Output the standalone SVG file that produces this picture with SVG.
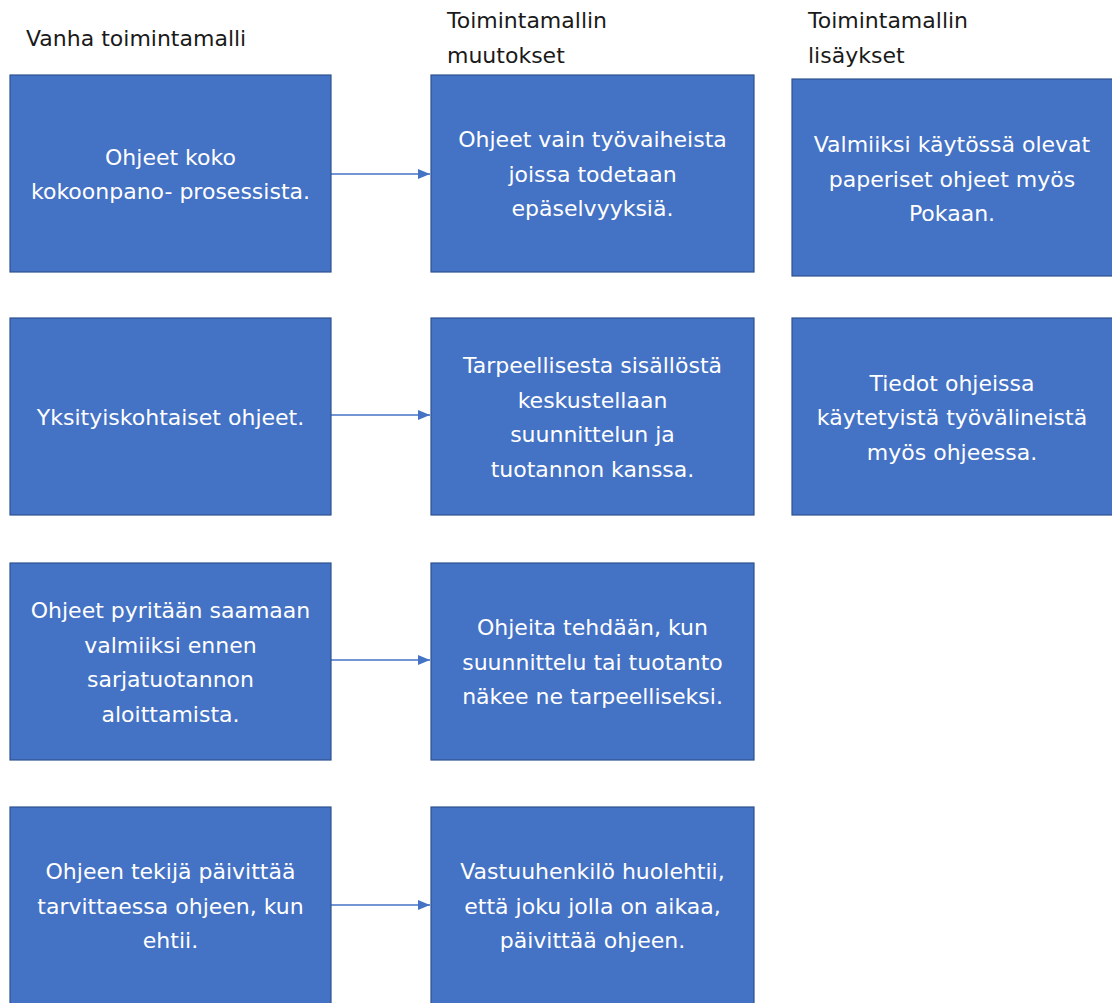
<svg xmlns="http://www.w3.org/2000/svg" width="1112" height="1003" viewBox="0 0 1112 1003">
<defs>
<style>
.box{fill:#4472C4;stroke:#2F528F;stroke-width:1.2}
.t{font-family:"DejaVu Sans",sans-serif;font-size:22px;fill:#FFFFFF;text-anchor:middle}
.h{font-family:"DejaVu Sans",sans-serif;font-size:22px;fill:#1a1a1a}
.conn{stroke:#4472C4;stroke-width:1.5;fill:none}
</style>
<marker id="arr" markerWidth="12" markerHeight="10" refX="12" refY="5" orient="auto" markerUnits="userSpaceOnUse">
<path d="M0,0 L12,5 L0,10 Z" fill="#4472C4"/>
</marker>
</defs>
<rect width="1112" height="1003" fill="#FFFFFF"/>
<g id="headers">
<text class="h" x="26" y="46">Vanha toimintamalli</text>
<text class="h" x="447" y="28">Toimintamallin</text>
<text class="h" x="447" y="63">muutokset</text>
<text class="h" x="808" y="28">Toimintamallin</text>
<text class="h" x="808" y="63">lisäykset</text>
</g>
<g id="connectors">
<line class="conn" x1="331" y1="174" x2="430" y2="174" marker-end="url(#arr)"/>
<line class="conn" x1="331" y1="415" x2="430" y2="415" marker-end="url(#arr)"/>
<line class="conn" x1="331" y1="660" x2="430" y2="660" marker-end="url(#arr)"/>
<line class="conn" x1="331" y1="905" x2="430" y2="905" marker-end="url(#arr)"/>
</g>
<g id="n1a">
<rect class="box" x="10" y="75" width="321" height="197"/>
<text class="t" x="170.5" y="164.5">Ohjeet koko</text>
<text class="t" x="170.5" y="199">kokoonpano- prosessista.</text>
</g>
<g id="n2a">
<rect class="box" x="10" y="318" width="321" height="197"/>
<text class="t" x="170.5" y="424.5">Yksityiskohtaiset ohjeet.</text>
</g>
<g id="n3a">
<rect class="box" x="10" y="563" width="321" height="197"/>
<text class="t" x="170.5" y="618">Ohjeet pyritään saamaan</text>
<text class="t" x="170.5" y="652.5">valmiiksi ennen</text>
<text class="t" x="170.5" y="687">sarjatuotannon</text>
<text class="t" x="170.5" y="721.5">aloittamista.</text>
</g>
<g id="n4a">
<rect class="box" x="10" y="807" width="321" height="197"/>
<text class="t" x="170.5" y="879">Ohjeen tekijä päivittää</text>
<text class="t" x="170.5" y="913.5">tarvittaessa ohjeen, kun</text>
<text class="t" x="170.5" y="948">ehtii.</text>
</g>
<g id="n1b">
<rect class="box" x="431" y="75" width="323" height="197"/>
<text class="t" x="592.5" y="147">Ohjeet vain työvaiheista</text>
<text class="t" x="592.5" y="181.5">joissa todetaan</text>
<text class="t" x="592.5" y="216">epäselvyyksiä.</text>
</g>
<g id="n2b">
<rect class="box" x="431" y="318" width="323" height="197"/>
<text class="t" x="592.5" y="373">Tarpeellisesta sisällöstä</text>
<text class="t" x="592.5" y="407.5">keskustellaan</text>
<text class="t" x="592.5" y="442">suunnittelun ja</text>
<text class="t" x="592.5" y="476.5">tuotannon kanssa.</text>
</g>
<g id="n3b">
<rect class="box" x="431" y="563" width="323" height="197"/>
<text class="t" x="592.5" y="635">Ohjeita tehdään, kun</text>
<text class="t" x="592.5" y="669.5">suunnittelu tai tuotanto</text>
<text class="t" x="592.5" y="704">näkee ne tarpeelliseksi.</text>
</g>
<g id="n4b">
<rect class="box" x="431" y="807" width="323" height="197"/>
<text class="t" x="592.5" y="879">Vastuuhenkilö huolehtii,</text>
<text class="t" x="592.5" y="913.5">että joku jolla on aikaa,</text>
<text class="t" x="592.5" y="948">päivittää ohjeen.</text>
</g>
<g id="n1c">
<rect class="box" x="792" y="79" width="321" height="197"/>
<text class="t" x="952" y="152">Valmiiksi käytössä olevat</text>
<text class="t" x="952" y="186.5">paperiset ohjeet myös</text>
<text class="t" x="952" y="221">Pokaan.</text>
</g>
<g id="n2c">
<rect class="box" x="792" y="318" width="321" height="197"/>
<text class="t" x="952" y="390.5">Tiedot ohjeissa</text>
<text class="t" x="952" y="425">käytetyistä työvälineistä</text>
<text class="t" x="952" y="459.5">myös ohjeessa.</text>
</g>
</svg>
